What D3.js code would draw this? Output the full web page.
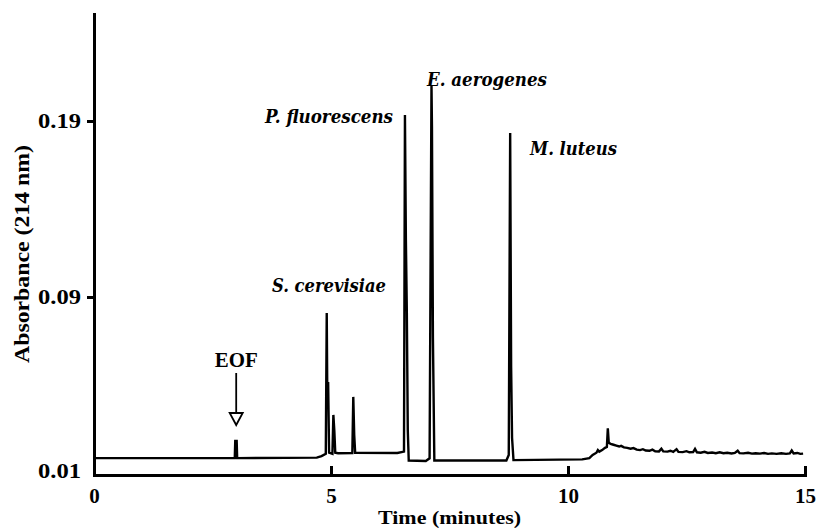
<!DOCTYPE html>
<html>
<head>
<meta charset="utf-8">
<script src="https://cdn.jsdelivr.net/npm/d3@7/dist/d3.min.js"></script>
<style>
  html, body { margin: 0; padding: 0; background: #fff; }
  svg { display: block; }
  .tick text { font-family: "Liberation Serif", "Times New Roman", serif; font-weight: bold; }
</style>
</head>
<body>
<svg id="chart" width="816" height="528"></svg>
<script>
// Electropherogram trace: migration time (minutes) and absorbance at 214 nm
const times = [
  0.00, 2.97, 2.98, 3.01, 3.02,
  4.70, 4.80, 4.89, 4.91, 4.92, 4.94, 4.96,
  5.03, 5.05, 5.07, 5.09, 5.15,
  5.45, 5.47, 5.49, 5.51,
  6.40, 6.54, 6.56, 6.58, 6.60, 6.62, 6.64,
  7.00, 7.08, 7.12, 7.13, 7.15, 7.18,
  8.70, 8.75, 8.78, 8.80, 8.82, 8.85,
  10.30, 10.45, 10.52, 10.60, 10.63, 10.66, 10.72, 10.78, 10.82, 10.84, 10.86,
  10.90, 10.96, 11.02, 11.08, 11.12, 11.18, 11.25, 11.32, 11.38, 11.45,
  11.52, 11.58, 11.64, 11.72, 11.78, 11.84, 11.92, 11.97, 12.01, 12.10,
  12.16, 12.22, 12.29, 12.33, 12.42, 12.50, 12.56, 12.64, 12.68, 12.72,
  12.80, 12.88, 12.95, 13.04, 13.12, 13.20, 13.28, 13.36, 13.45, 13.52,
  13.58, 13.62, 13.70, 13.80, 13.88, 13.96, 14.05, 14.14, 14.22, 14.30,
  14.40, 14.50, 14.60, 14.68, 14.72, 14.76, 14.84, 14.90, 14.96
];
const absorbance = [
  0.0176, 0.0176, 0.0253, 0.0253, 0.0176,
  0.0178, 0.0185, 0.0195, 0.0828, 0.0513, 0.0513, 0.0200,
  0.0195, 0.0370, 0.0300, 0.0200, 0.0198,
  0.0199, 0.0451, 0.0280, 0.0200,
  0.0199, 0.0205, 0.1934, 0.1224, 0.0828, 0.0300, 0.0165,
  0.0163, 0.0175, 0.2105, 0.1866, 0.0720, 0.0165,
  0.0165, 0.0190, 0.1832, 0.0590, 0.0266, 0.0167,
  0.0170, 0.0176, 0.0190, 0.0200, 0.0212, 0.0205, 0.0212, 0.0222, 0.0226, 0.0310, 0.0245,
  0.0240, 0.0236, 0.0232, 0.0228, 0.0231, 0.0224, 0.0222, 0.0218, 0.0221, 0.0214,
  0.0212, 0.0216, 0.0210, 0.0209, 0.0214, 0.0207, 0.0206, 0.0218, 0.0206, 0.0205,
  0.0209, 0.0204, 0.0216, 0.0204, 0.0203, 0.0207, 0.0202, 0.0203, 0.0217, 0.0202,
  0.0200, 0.0204, 0.0199, 0.0201, 0.0198, 0.0202, 0.0198, 0.0200, 0.0197, 0.0199,
  0.0209, 0.0198, 0.0197, 0.0200, 0.0196, 0.0198, 0.0196, 0.0199, 0.0195, 0.0197,
  0.0195, 0.0198, 0.0195, 0.0197, 0.0210, 0.0197, 0.0199, 0.0195, 0.0196
];

// Axis ticks
const xTicks = [0, 5, 10, 15];
const yTicks = [0.01, 0.09, 0.19];
const yAxisTop = 0.251;

// Peak annotations: label text, anchor time and absorbance of its baseline
const peakNames = ["S. cerevisiae", "P. fluorescens", "E. aerogenes", "M. luteus"];
const peakLabelTime = [3.755, 3.608, 7.025, 9.198];
const peakLabelAbs = [0.0928, 0.1889, 0.2099, 0.1707];
const peakLabelWidth = [114, 128, 120, 87];

// Electroosmotic flow marker
const eofLabel = "EOF";
const eofTime = 3.0;

const svg = d3.select("#chart");

const x = d3.scaleLinear().domain([0, 15]).range([94, 805]);
// Broken-scale absorbance axis, as printed on the original instrument output
const y = d3.scaleLinear()
  .domain([yTicks[0], yTicks[1], yTicks[2], yAxisTop])
  .range([475, 297, 121, 14]);

// Trace
const line = d3.line()
  .x((d, i) => x(times[i]))
  .y((d, i) => y(absorbance[i]));

svg.append("path")
  .datum(times)
  .attr("d", line)
  .attr("fill", "none")
  .attr("stroke", "#000")
  .attr("stroke-width", 2.4)
  .attr("stroke-linejoin", "miter")
  .attr("stroke-miterlimit", 2);

// X axis with ticks pointing up
const xAxis = svg.append("g")
  .attr("transform", `translate(0,${y(yTicks[0])})`)
  .call(d3.axisBottom(x).tickValues(xTicks).tickFormat(d3.format("d"))
    .tickSizeInner(-9).tickSizeOuter(0).tickPadding(13));

// Y axis
const yAxis = svg.append("g")
  .attr("transform", `translate(${x(0)},0)`)
  .call(d3.axisLeft(y).tickValues(yTicks).tickFormat(d3.format(".2f"))
    .tickSizeInner(7).tickSizeOuter(0).tickPadding(6));

[xAxis, yAxis].forEach(g => {
  g.select(".domain").attr("stroke-width", 3).attr("stroke-linecap", "square");
  g.selectAll(".tick line").attr("stroke-width", 3);
  g.selectAll(".tick text").attr("font-size", 21).attr("fill", "#000");
});
xAxis.selectAll(".tick").filter(d => d === 0).select("line").remove();
yAxis.selectAll(".tick").filter(d => d === yTicks[0]).select("line").remove();
yAxis.selectAll(".tick").filter(d => d === yTicks[0]).select("text").attr("dy", "0.1em");
yAxis.selectAll(".tick text").attr("textLength", 43).attr("lengthAdjust", "spacingAndGlyphs");

// Axis titles
svg.append("text")
  .attr("transform", "translate(29,254) rotate(-90)")
  .attr("text-anchor", "middle")
  .attr("font-family", "Liberation Serif, serif")
  .attr("font-weight", "bold")
  .attr("font-size", 20)
  .attr("textLength", 218)
  .attr("lengthAdjust", "spacingAndGlyphs")
  .text("Absorbance (214 nm)");

svg.append("text")
  .attr("x", 378)
  .attr("y", 524)
  .attr("font-family", "Liberation Serif, serif")
  .attr("font-weight", "bold")
  .attr("font-size", 19)
  .attr("textLength", 143)
  .attr("lengthAdjust", "spacingAndGlyphs")
  .text("Time (minutes)");

// Peak labels
svg.selectAll("text.peak")
  .data(peakNames)
  .join("text")
  .attr("class", "peak")
  .attr("x", (d, i) => x(peakLabelTime[i]))
  .attr("y", (d, i) => y(peakLabelAbs[i]))
  .attr("font-family", "DejaVu Serif, serif")
  .attr("font-weight", "bold")
  .attr("font-style", "italic")
  .attr("font-size", 18)
  .attr("textLength", (d, i) => peakLabelWidth[i])
  .attr("lengthAdjust", "spacingAndGlyphs")
  .text(d => d);

// EOF marker: label with open-headed arrow
const ex = x(eofTime);
svg.append("text")
  .attr("x", ex)
  .attr("y", 367)
  .attr("text-anchor", "middle")
  .attr("font-family", "Liberation Serif, serif")
  .attr("font-weight", "bold")
  .attr("font-size", 21)
  .attr("textLength", 43)
  .attr("lengthAdjust", "spacingAndGlyphs")
  .text(eofLabel);

svg.append("line")
  .attr("x1", ex).attr("x2", ex)
  .attr("y1", 373).attr("y2", 413)
  .attr("stroke", "#000").attr("stroke-width", 1.8);

svg.append("path")
  .attr("d", `M${ex - 6.5},413 L${ex + 6.5},413 L${ex},425 Z`)
  .attr("fill", "#fff")
  .attr("stroke", "#000")
  .attr("stroke-width", 1.8)
  .attr("stroke-linejoin", "miter");
</script>
</body>
</html>
